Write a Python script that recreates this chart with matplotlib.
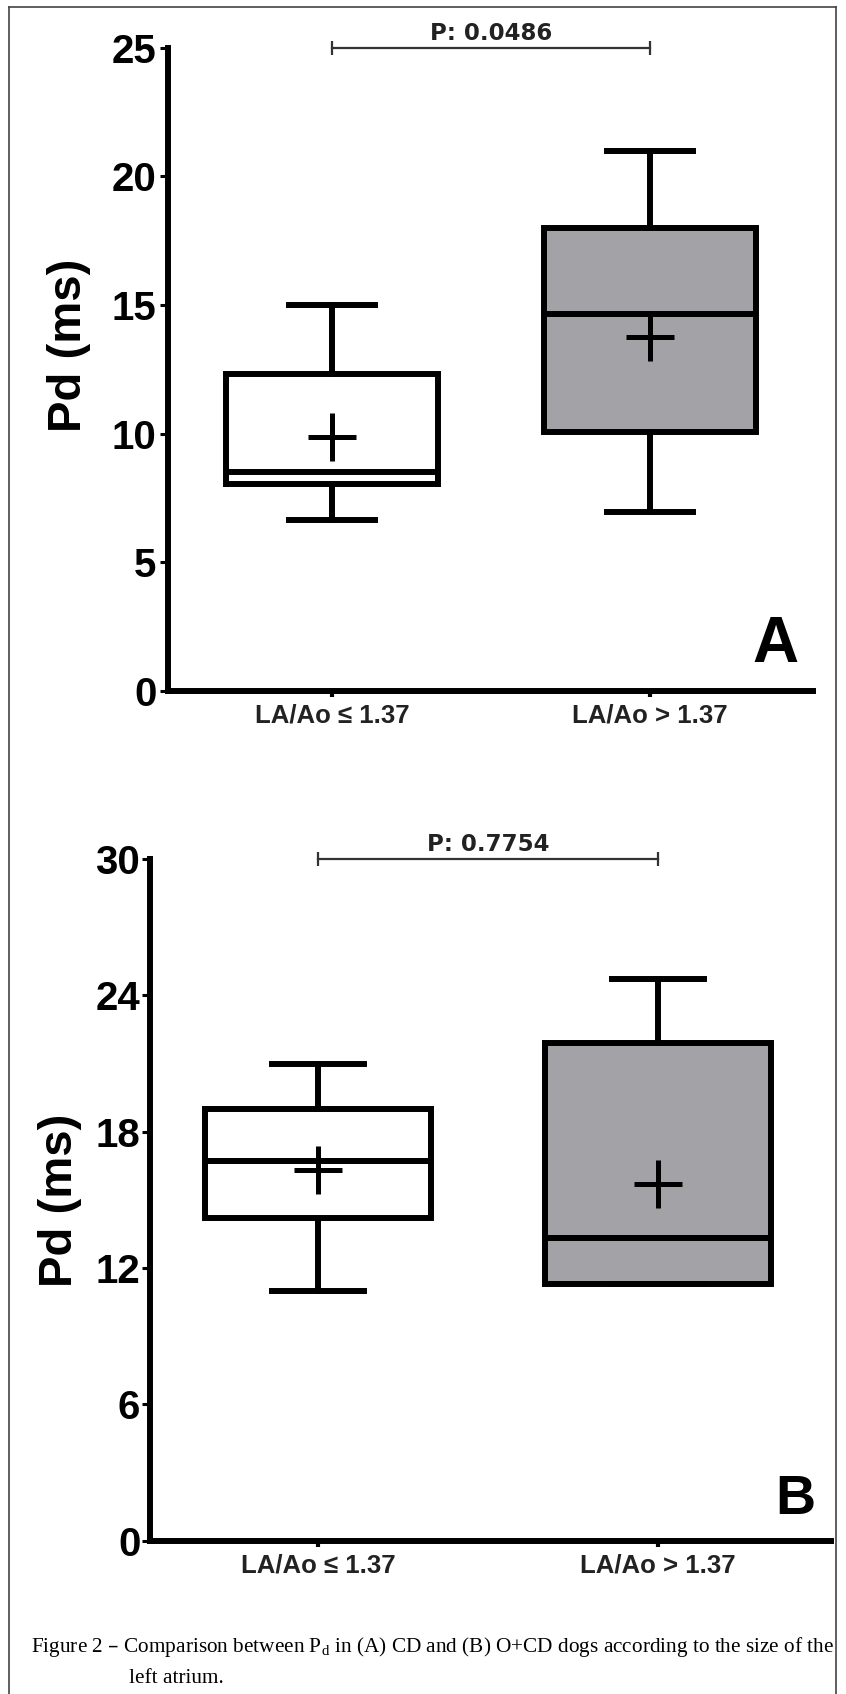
import matplotlib
matplotlib.use('Agg')
import matplotlib.pyplot as plt
from matplotlib.lines import Line2D

plt.rcParams['font.family'] = ['Liberation Sans', 'DejaVu Sans']

# Data
groups = ['LA/Ao \u2264 1.37', 'LA/Ao > 1.37']

# Panel A (CD dogs)
a_whislo = [6.65, 6.95]
a_q1 = [8.05, 10.05]
a_med = [8.5, 14.65]
a_q3 = [12.3, 18.0]
a_whishi = [15.0, 21.0]
a_mean = [9.87, 13.75]
a_p = 'P: 0.0486'
a_ticks = [0, 5, 10, 15, 20, 25]

# Panel B (O+CD dogs)
b_whislo = [11.0, 11.3]
b_q1 = [14.2, 11.3]
b_med = [16.7, 13.3]
b_q3 = [19.0, 21.9]
b_whishi = [21.0, 24.7]
b_mean = [16.3, 15.7]
b_p = 'P: 0.7754'
b_ticks = [0, 6, 12, 18, 24, 30]

box_colors = ['white', '#a3a3a7']

W, H = 846, 1694
fig = plt.figure(figsize=(W / 100, H / 100), dpi=100)

LW = 4.3


def panel(rect, xlim, whislo, q1, med, q3, whishi, mean, ticks, ptext, letter, letter_xy, letter_size, ylab_xy, ytick_pad):
    ax = fig.add_axes(rect)
    stats = []
    for i in range(len(groups)):
        stats.append(dict(whislo=whislo[i], q1=q1[i], med=med[i], q3=q3[i],
                          whishi=whishi[i], mean=mean[i], fliers=[], label=groups[i]))
    bp = ax.bxp(stats, positions=[1, 2], widths=0.665, capwidths=0.27,
                showmeans=True, patch_artist=True,
                boxprops=dict(linewidth=LW, edgecolor='black'),
                medianprops=dict(color='black', linewidth=LW),
                whiskerprops=dict(color='black', linewidth=LW),
                capprops=dict(color='black', linewidth=LW),
                meanprops=dict(marker='+', markersize=34, markeredgewidth=3.6,
                               markeredgecolor='black'))
    for patch, c in zip(bp['boxes'], box_colors):
        patch.set_facecolor(c)

    top = ticks[-1]
    ax.set_ylim(0, top)
    ax.set_xlim(*xlim)
    ax.set_yticks(ticks)
    ax.set_yticklabels([str(t) for t in ticks], fontsize=29, fontweight='bold')
    ax.set_xticks([1, 2])
    ax.set_xticklabels(groups, fontsize=18.5, fontweight='bold', color='#222222')
    ax.tick_params(axis='y', length=6, width=2.2, pad=ytick_pad)
    ax.tick_params(axis='x', length=4, width=3, pad=5)
    for s in ['top', 'right']:
        ax.spines[s].set_visible(False)
    for s in ['left', 'bottom']:
        ax.spines[s].set_linewidth(LW)
        ax.spines[s].set_capstyle('projecting')
    ax.spines['left'].set_bounds(0, top)

    # significance bracket
    ax.plot([1, 2], [top, top], color='#333333', lw=1.6, marker='|',
            markersize=10, markeredgewidth=1.6, clip_on=False)
    ax.annotate(ptext, xy=(1.5, top), xytext=(0, 2), textcoords='offset points',
                ha='center', va='bottom', fontsize=16.5, fontweight='bold',
                family=['DejaVu Sans'], color='#222222', annotation_clip=False)

    ax.text(ylab_xy[0], ylab_xy[1], 'Pd (ms)', transform=ax.transAxes, rotation=90,
            ha='center', va='center', fontsize=34, fontweight='bold')
    fig.text(letter_xy[0] / W, 1 - letter_xy[1] / H, letter, ha='center', va='center',
             fontsize=letter_size, fontweight='bold')
    return ax


panel([168 / W, 1 - 691 / H, 645 / W, (691 - 47.7) / H], (0.4843, 2.5126),
      a_whislo, a_q1, a_med, a_q3, a_whishi, a_mean, a_ticks, a_p,
      'A', (775, 645), 46, (-0.153, 0.538), 2.2)

panel([150 / W, 1 - 1540.7 / H, 681 / W, (1540.7 - 859) / H], (0.5059, 2.5088),
      b_whislo, b_q1, b_med, b_q3, b_whishi, b_mean, b_ticks, b_p,
      'B', (795, 1500), 40, (-0.132, 0.5), 1.0)

# caption
cap1 = 'Figure 2 \u2013 Comparison between P$_\\mathregular{d}$ in (A) CD and (B) O+CD dogs according to the size of the'
cap2 = 'left atrium.'
fig.text(31 / W, 1 - 1652 / H, cap1, ha='left', va='baseline', fontsize=15.3,
         family=['Liberation Serif'])
fig.text(129 / W, 1 - 1683 / H, cap2, ha='left', va='baseline', fontsize=15.3,
         family=['Liberation Serif'])

# frame around the figure
bx0, bx1, by0 = 9 / W, 836 / W, 1 - 7 / H
for xs, ys in [([bx0, bx0], [0, by0]), ([bx0, bx1], [by0, by0]), ([bx1, bx1], [by0, 0])]:
    fig.add_artist(Line2D(xs, ys, color='#444444', lw=1.2))

fig.savefig('out.png', dpi=100)
